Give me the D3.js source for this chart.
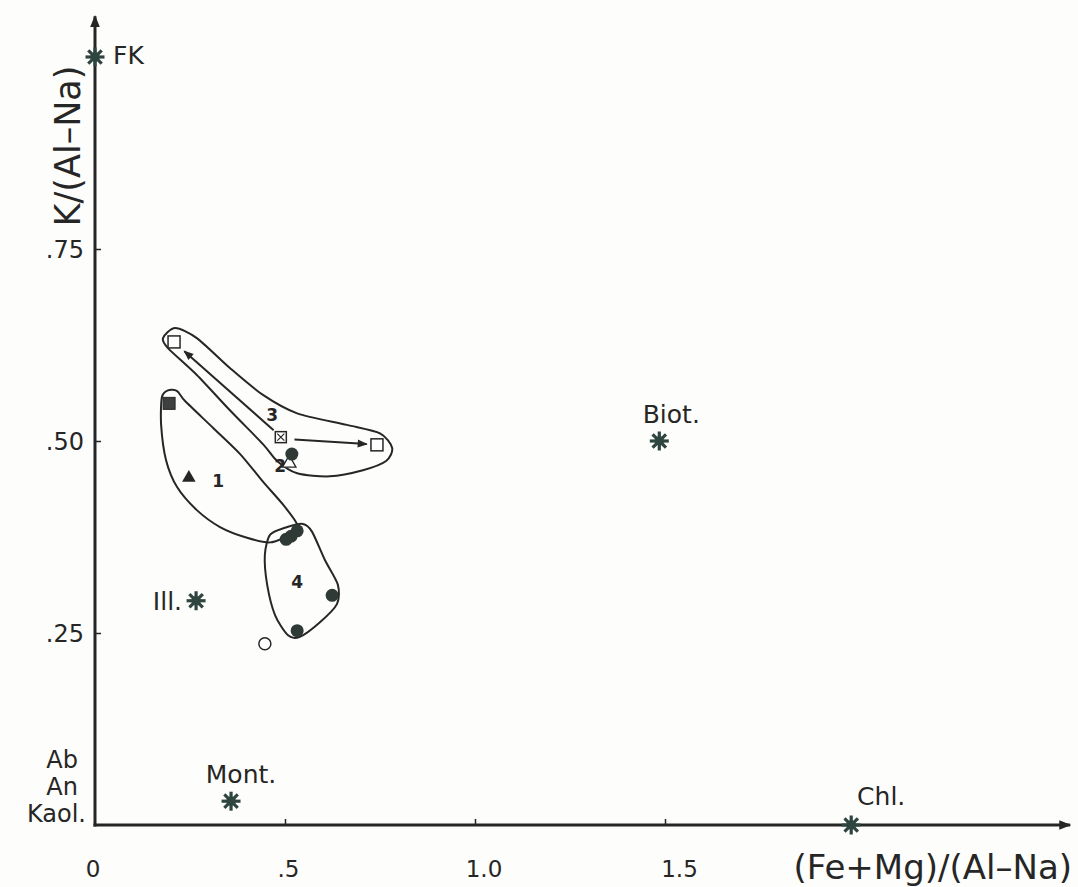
<!DOCTYPE html>
<html><head><meta charset="utf-8">
<script src="https://cdn.jsdelivr.net/npm/d3@7"></script>
<style>body{margin:0;background:#fdfdfb;} text{font-family:"DejaVu Sans",sans-serif;fill:#262626;}</style>
</head><body><svg id="c" width="1078" height="887"></svg>
<script>
// ---- data ----
const xTicks = [0, 0.5, 1.0, 1.5];
const xTickLabels = ["0", ".5", "1.0", "1.5"];
const yTicks = [0.25, 0.5, 0.75];
const yTickLabels = [".25", ".50", ".75"];
const minerals = [
  {name: "FK", x: 0, y: 1.0},
  {name: "Ill.", x: 0.266, y: 0.292},
  {name: "Mont.", x: 0.358, y: 0.031},
  {name: "Biot.", x: 1.485, y: 0.5},
  {name: "Chl.", x: 1.99, y: 0.0}
];
const originLabels = ["Ab", "An", "Kaol."];
const openSquares = [[0.208, 0.629], [0.742, 0.495]];
const filledSquares = [[0.195, 0.549]];
const crossedSquares = [[0.489, 0.505]];
const filledTriangles = [[0.247, 0.452]];
const openTriangles = [[0.511, 0.471]];
const filledCircles = [[0.518, 0.483], [0.503, 0.372], [0.516, 0.376], [0.532, 0.383], [0.624, 0.299], [0.532, 0.253]];
const openCircles = [[0.447, 0.236]];
const arrows = [[[0.470, 0.514], [0.235, 0.617]], [[0.525, 0.502], [0.715, 0.496]]];
const envelope1 = [[0.176,0.557],[0.192,0.566],[0.216,0.565],[0.237,0.552],[0.311,0.517],[0.382,0.483],[0.442,0.447],[0.495,0.417],[0.532,0.391],[0.513,0.378],[0.461,0.368],[0.400,0.374],[0.329,0.388],[0.268,0.410],[0.216,0.440],[0.187,0.475],[0.174,0.521]];
const envelope3 = [[0.179,0.634],[0.211,0.647],[0.268,0.634],[0.355,0.595],[0.442,0.560],[0.532,0.536],[0.663,0.521],[0.750,0.510],[0.782,0.491],[0.766,0.474],[0.705,0.462],[0.618,0.454],[0.532,0.458],[0.479,0.474],[0.442,0.496],[0.355,0.540],[0.268,0.586],[0.192,0.621]];
const envelope4 = [[0.547,0.392],[0.500,0.387],[0.461,0.378],[0.447,0.352],[0.453,0.313],[0.474,0.273],[0.508,0.247],[0.539,0.245],[0.592,0.264],[0.637,0.288],[0.639,0.313],[0.605,0.345],[0.571,0.382]];
const groupLabels = [{t: "1", x: 0.324, y: 0.440}, {t: "2", x: 0.487, y: 0.460}, {t: "3", x: 0.466, y: 0.526}, {t: "4", x: 0.532, y: 0.309}];

// ---- chart ----
const svg = d3.select("#c");
const ink = "#262626";
const x = d3.scaleLinear().domain([0, 1]).range([95, 475]);
const y = d3.scaleLinear().domain([0, 1]).range([825, 57]);
const xEnd = 2.566, yEnd = 1.053;

const defs = svg.append("defs");
defs.append("marker").attr("id", "ah").attr("viewBox", "0 0 10 10")
  .attr("refX", 9).attr("refY", 5).attr("markerWidth", 6).attr("markerHeight", 5).attr("orient", "auto")
  .append("path").attr("d", "M0,1 L10,5 L0,9 z").attr("fill", ink);
defs.append("marker").attr("id", "axh").attr("viewBox", "0 0 10 10")
  .attr("refX", 9).attr("refY", 5).attr("markerWidth", 8).attr("markerHeight", 4).attr("orient", "auto")
  .attr("markerUnits", "strokeWidth")
  .append("path").attr("d", "M0,1 L10,5 L0,9 z").attr("fill", ink);

// axes lines with arrowheads
svg.append("line").attr("x1", x(0) - 1.5).attr("y1", y(0)).attr("x2", x(xEnd)).attr("y2", y(0))
  .attr("stroke", ink).attr("stroke-width", 3).attr("marker-end", "url(#axh)");
svg.append("line").attr("x1", x(0)).attr("y1", y(0) + 1.5).attr("x2", x(0)).attr("y2", y(yEnd))
  .attr("stroke", ink).attr("stroke-width", 3).attr("marker-end", "url(#axh)");

// x axis ticks
const xAxis = d3.axisTop(x).tickValues(xTicks.slice(1)).tickSize(6).tickFormat("");
const gx = svg.append("g").attr("transform", `translate(0,${y(0)})`).call(xAxis);
gx.select(".domain").remove();
gx.selectAll("line").attr("stroke", ink).attr("stroke-width", 1.5);
svg.append("g").selectAll("text").data(xTicks).join("text")
  .attr("x", d => x(d) - 2 + d * 11).attr("y", 877)
  .attr("text-anchor", "middle").attr("font-size", 23).text((d, i) => xTickLabels[i]);

// y axis ticks
const yAxis = d3.axisRight(y).tickValues(yTicks).tickSize(6).tickFormat("");
const gy = svg.append("g").attr("transform", `translate(${x(0)},0)`).call(yAxis);
gy.select(".domain").remove();
gy.selectAll("line").attr("stroke", ink).attr("stroke-width", 1.5);
svg.append("g").selectAll("text").data(yTicks).join("text")
  .attr("x", 84).attr("y", d => y(d) + 9).attr("text-anchor", "end").attr("font-size", 24)
  .text((d, i) => yTickLabels[i]);

// axis titles
svg.append("text").attr("transform", "translate(80,146) rotate(-90)").attr("text-anchor", "middle")
  .attr("font-size", 35).text("K/(Al\u2013Na)");
svg.append("text").attr("x", 1072).attr("y", 879).attr("text-anchor", "end")
  .attr("font-size", 34).text("(Fe+Mg)/(Al\u2013Na)");

// origin labels
svg.append("g").selectAll("text").data(originLabels).join("text")
  .attr("x", (d, i) => i === 2 ? 86 : 78).attr("y", (d, i) => 768 + i * 27).attr("text-anchor", "end")
  .attr("font-size", 24).text(d => d);

// envelopes
const env = d3.line().x(d => x(d[0])).y(d => y(d[1])).curve(d3.curveCardinalClosed.tension(0.2));
[envelope1, envelope3, envelope4].forEach(e => {
  svg.append("path").attr("d", env(e)).attr("fill", "none").attr("stroke", ink).attr("stroke-width", 2);
});

// arrows
arrows.forEach(a => {
  svg.append("line").attr("x1", x(a[0][0])).attr("y1", y(a[0][1])).attr("x2", x(a[1][0])).attr("y2", y(a[1][1]))
    .attr("stroke", ink).attr("stroke-width", 2).attr("marker-end", "url(#ah)");
});

// stars (8-arm asterisk)
const starCol = "#2f4540";
function star(cx, cy, r) {
  const g = svg.append("g").attr("transform", `translate(${cx},${cy})`);
  for (let k = 0; k < 4; k++) {
    const a = k * Math.PI / 4;
    g.append("line").attr("x1", -r * Math.cos(a)).attr("y1", -r * Math.sin(a))
      .attr("x2", r * Math.cos(a)).attr("y2", r * Math.sin(a))
      .attr("stroke", starCol).attr("stroke-width", 3.2);
  }
  g.append("circle").attr("r", r * 0.5).attr("fill", starCol);
}
minerals.forEach(m => star(x(m.x), y(m.y), 9.5));

// mineral labels
const lab = {
  "FK": {dx: 18, dy: 7, a: "start"},
  "Ill.": {dx: -14, dy: 9, a: "end"},
  "Mont.": {dx: 10, dy: -18, a: "middle"},
  "Biot.": {dx: 12, dy: -18, a: "middle"},
  "Chl.": {dx: 30, dy: -20, a: "middle"}
};
minerals.forEach(m => {
  const L = lab[m.name];
  svg.append("text").attr("x", x(m.x) + L.dx).attr("y", y(m.y) + L.dy).attr("text-anchor", L.a)
    .attr("font-size", 25).text(m.name);
});

// data symbols
const sq = 12;
svg.append("g").selectAll("rect").data(openSquares).join("rect")
  .attr("x", d => x(d[0]) - sq / 2).attr("y", d => y(d[1]) - sq / 2).attr("width", sq).attr("height", sq)
  .attr("fill", "#fff").attr("stroke", ink).attr("stroke-width", 1.5);
svg.append("g").selectAll("rect").data(filledSquares).join("rect")
  .attr("x", d => x(d[0]) - sq / 2).attr("y", d => y(d[1]) - sq / 2).attr("width", sq).attr("height", sq)
  .attr("fill", "#3d403f").attr("stroke", ink).attr("stroke-width", 1);
crossedSquares.forEach(d => {
  const cx = x(d[0]), cy = y(d[1]), h = sq / 2 - 0.5;
  svg.append("rect").attr("x", cx - h).attr("y", cy - h).attr("width", 2 * h).attr("height", 2 * h)
    .attr("fill", "#fff").attr("stroke", ink).attr("stroke-width", 1.5);
  svg.append("path").attr("d", `M${cx - h + 2},${cy - h + 2}L${cx + h - 2},${cy + h - 2}M${cx + h - 2},${cy - h + 2}L${cx - h + 2},${cy + h - 2}`)
    .attr("stroke", ink).attr("stroke-width", 1.2);
});
const tri = d3.symbol().type(d3.symbolTriangle).size(80);
svg.append("g").selectAll("path").data(filledTriangles).join("path")
  .attr("transform", d => `translate(${x(d[0])},${y(d[1])})`).attr("d", tri).attr("fill", ink);
svg.append("g").selectAll("path").data(openTriangles).join("path")
  .attr("transform", d => `translate(${x(d[0])},${y(d[1])})`).attr("d", tri).attr("fill", "#fff")
  .attr("stroke", ink).attr("stroke-width", 1.3);
svg.append("g").selectAll("circle").data(filledCircles).join("circle")
  .attr("cx", d => x(d[0])).attr("cy", d => y(d[1])).attr("r", 6.5).attr("fill", "#2f3a37");
svg.append("g").selectAll("circle").data(openCircles).join("circle")
  .attr("cx", d => x(d[0])).attr("cy", d => y(d[1])).attr("r", 6).attr("fill", "#fff")
  .attr("stroke", ink).attr("stroke-width", 1.5);

// group labels
svg.append("g").selectAll("text").data(groupLabels).join("text")
  .attr("x", d => x(d.x)).attr("y", d => y(d.y)).attr("text-anchor", "middle")
  .attr("font-size", 17).attr("font-weight", "bold").text(d => d.t);
</script></body></html>
